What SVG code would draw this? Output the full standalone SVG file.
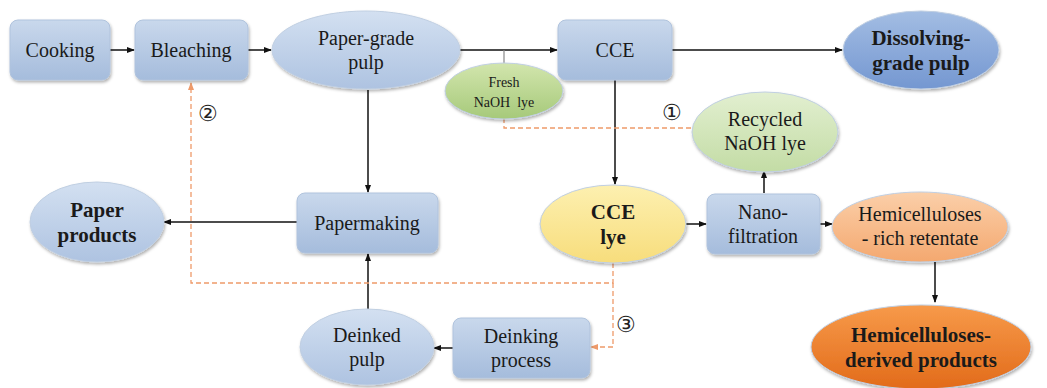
<svg xmlns="http://www.w3.org/2000/svg" width="1047" height="388" viewBox="0 0 1047 388">
<defs>
<linearGradient id="gBox" x1="0" y1="0" x2="0" y2="1"><stop offset="0" stop-color="#c9d8ec"/><stop offset="1" stop-color="#a5bcdc"/></linearGradient>
<linearGradient id="gBlue" x1="0" y1="0" x2="0" y2="1"><stop offset="0" stop-color="#d3e0f1"/><stop offset="1" stop-color="#aec3e1"/></linearGradient>
<linearGradient id="gDark" x1="0" y1="0" x2="0" y2="1"><stop offset="0" stop-color="#a3bde3"/><stop offset="1" stop-color="#7497d1"/></linearGradient>
<linearGradient id="gGreen" x1="0" y1="0" x2="0" y2="1"><stop offset="0" stop-color="#d2e5ad"/><stop offset="1" stop-color="#a6c97a"/></linearGradient>
<linearGradient id="gLGreen" x1="0" y1="0" x2="0" y2="1"><stop offset="0" stop-color="#e2efd0"/><stop offset="1" stop-color="#c3dca5"/></linearGradient>
<linearGradient id="gYellow" x1="0" y1="0" x2="0" y2="1"><stop offset="0" stop-color="#fdf0b0"/><stop offset="1" stop-color="#f7dd7c"/></linearGradient>
<linearGradient id="gLOrange" x1="0" y1="0" x2="0" y2="1"><stop offset="0" stop-color="#fbcfa9"/><stop offset="1" stop-color="#f4a86f"/></linearGradient>
<linearGradient id="gOrange" x1="0" y1="0" x2="0" y2="1"><stop offset="0" stop-color="#f79a4a"/><stop offset="1" stop-color="#e26b1a"/></linearGradient>
<filter id="sh" x="-10%" y="-10%" width="125%" height="130%"><feDropShadow dx="1" dy="2" stdDeviation="1.5" flood-color="#000" flood-opacity="0.3"/></filter>
<marker id="ah" markerWidth="8" markerHeight="8" refX="7" refY="4" orient="auto" markerUnits="userSpaceOnUse"><path d="M0,1 L8,4 L0,7 Z" fill="#111"/></marker>
<marker id="ao" markerWidth="8" markerHeight="8" refX="7" refY="4" orient="auto" markerUnits="userSpaceOnUse"><path d="M0,1 L8,4 L0,7 Z" fill="#ee9a6a"/></marker>
<style>
.box{fill:url(#gBox);stroke:#b0c3dd;stroke-width:1;filter:url(#sh)}
.ell{stroke:#c0cfe2;stroke-width:1;filter:url(#sh)}
text{font-family:'Liberation Serif',serif}
.t{font-size:20px;fill:#1a1a1a;text-anchor:middle}
.b{font-weight:bold;font-size:21px}
.s{font-size:14px}
.c{stroke:#111;stroke-width:1.5;fill:none}
.d{stroke:#ee9a6a;stroke-width:1.3;fill:none;stroke-dasharray:5 3}
.n{font-size:22px;fill:#222;text-anchor:middle}
</style>
</defs>
<rect width="1047" height="388" fill="#fff"/>
<g id="connectors">
<line class="c" x1="110" y1="50" x2="134" y2="50" marker-end="url(#ah)"/>
<line class="c" x1="248" y1="50" x2="271" y2="50" marker-end="url(#ah)"/>
<line class="c" x1="460" y1="50" x2="557" y2="50" marker-end="url(#ah)"/>
<line x1="504" y1="50" x2="504" y2="64" stroke="#888" stroke-width="1.2"/>
<line class="c" x1="672" y1="50" x2="842" y2="50" marker-end="url(#ah)"/>
<line class="c" x1="615" y1="80" x2="615" y2="184" marker-end="url(#ah)"/>
<line class="c" x1="368" y1="90" x2="368" y2="192" marker-end="url(#ah)"/>
<line class="c" x1="297" y1="222" x2="164" y2="222" marker-end="url(#ah)"/>
<line class="c" x1="686" y1="224" x2="706" y2="224" marker-end="url(#ah)"/>
<line class="c" x1="764" y1="193" x2="764" y2="171" marker-end="url(#ah)"/>
<line class="c" x1="820" y1="224" x2="832" y2="224" marker-end="url(#ah)"/>
<line class="c" x1="935" y1="262" x2="935" y2="302" marker-end="url(#ah)"/>
<line class="c" x1="368" y1="309" x2="368" y2="254" marker-end="url(#ah)"/>
<line class="c" x1="453" y1="348" x2="434" y2="348" marker-end="url(#ah)"/>
<path class="d" d="M504,118 V128 H692"/>
<path class="d" d="M613,263 V283 H191 V83" marker-end="url(#ao)"/>
<path class="d" d="M613,283 V347 H591" marker-end="url(#ao)"/>
</g>
<g id="cooking"><rect class="box" x="10" y="20" width="100" height="60" rx="8"/><text class="t" x="60" y="57" font-family="Liberation Serif, serif">Cooking</text></g>
<g id="bleaching"><rect class="box" x="135" y="20" width="113" height="60" rx="8"/><text class="t" x="191" y="57">Bleaching</text></g>
<g id="paper-grade-pulp"><ellipse class="ell" cx="366" cy="50" rx="94" ry="39" fill="url(#gBlue)"/><text class="t" x="366" y="45">Paper-grade</text><text class="t" x="366" y="69">pulp</text></g>
<g id="fresh-naoh"><ellipse class="ell" cx="504" cy="91" rx="59" ry="28" fill="url(#gGreen)"/><text class="t s" x="504" y="87">Fresh</text><text class="t s" x="504" y="107" xml:space="preserve">NaOH  lye</text></g>
<g id="cce"><rect class="box" x="558" y="20" width="114" height="60" rx="8"/><text class="t" x="615" y="57">CCE</text></g>
<g id="dissolving"><ellipse class="ell" cx="921" cy="50" rx="78" ry="39" fill="url(#gDark)"/><text class="t b" x="921" y="45">Dissolving-</text><text class="t b" x="921" y="70">grade pulp</text></g>
<g id="recycled-naoh"><ellipse class="ell" cx="765" cy="132" rx="73" ry="40" fill="url(#gLGreen)"/><text class="t" x="765" y="126">Recycled</text><text class="t" x="765" y="150">NaOH lye</text></g>
<g id="cce-lye"><ellipse class="ell" cx="613" cy="224" rx="73" ry="39" fill="url(#gYellow)"/><text class="t b" x="613" y="219">CCE</text><text class="t b" x="613" y="244">lye</text></g>
<g id="nanofiltration"><rect class="box" x="707" y="194" width="113" height="60" rx="8"/><text class="t" x="763" y="219">Nano-</text><text class="t" x="763" y="243">filtration</text></g>
<g id="retentate"><ellipse class="ell" cx="920" cy="227" rx="88" ry="35" fill="url(#gLOrange)"/><text class="t" x="920" y="221">Hemicelluloses</text><text class="t" x="920" y="245">- rich retentate</text></g>
<g id="hemi-products"><ellipse class="ell" cx="921" cy="347" rx="110" ry="42" fill="url(#gOrange)"/><text class="t b" x="921" y="342">Hemicelluloses-</text><text class="t b" x="921" y="367">derived products</text></g>
<g id="papermaking"><rect class="box" x="297" y="193" width="141" height="60" rx="8"/><text class="t" x="367" y="230">Papermaking</text></g>
<g id="paper-products"><ellipse class="ell" cx="97" cy="222" rx="67" ry="40" fill="url(#gBlue)"/><text class="t b" x="97" y="217">Paper</text><text class="t b" x="97" y="242">products</text></g>
<g id="deinked-pulp"><ellipse class="ell" cx="367" cy="347" rx="67" ry="38" fill="url(#gBlue)"/><text class="t" x="367" y="342">Deinked</text><text class="t" x="367" y="366">pulp</text></g>
<g id="deinking-process"><rect class="box" x="453" y="318" width="137" height="60" rx="8"/><text class="t" x="521" y="343">Deinking</text><text class="t" x="521" y="367">process</text></g>
<g id="labels"><text class="n" x="672" y="120">①</text><text class="n" x="208" y="121">②</text><text class="n" x="626" y="332">③</text></g>
</svg>
